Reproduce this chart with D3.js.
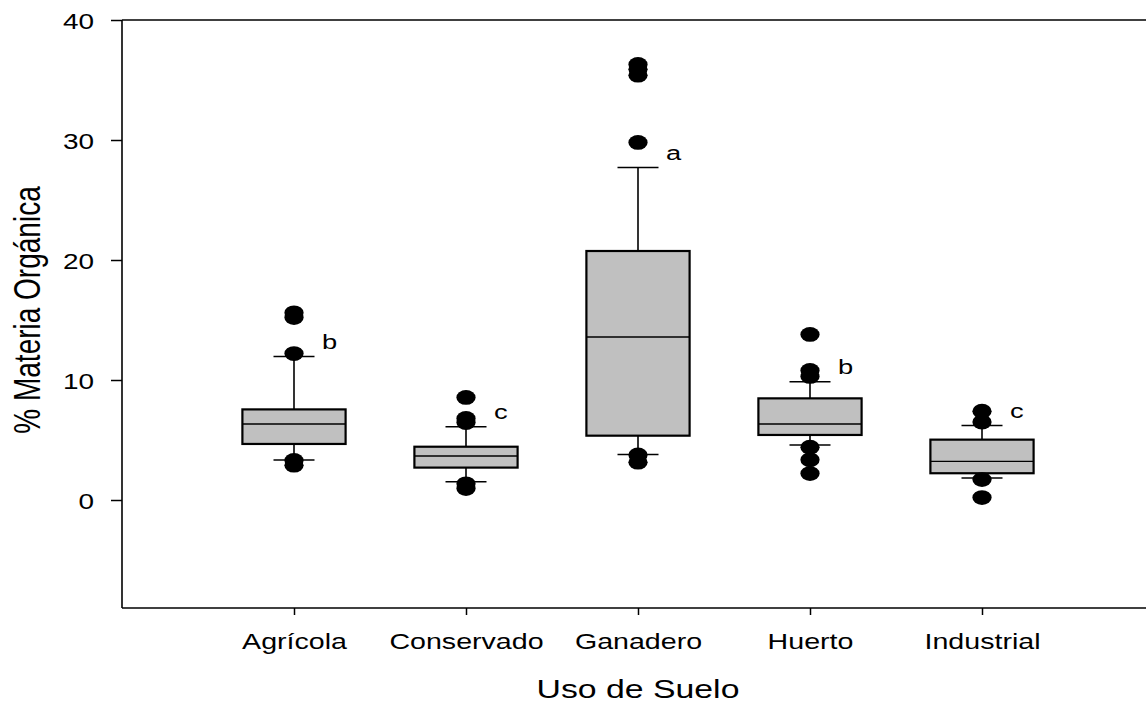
<!DOCTYPE html>
<html>
<head>
<meta charset="utf-8">
<script src="https://cdn.jsdelivr.net/npm/d3@7"></script>
<style>
  html, body { margin: 0; padding: 0; background: #fff; }
  svg { display: block; }
  text { font-family: "Liberation Sans", Arial, sans-serif; fill: #000; }
</style>
</head>
<body>
<svg id="chart" width="1146" height="702"></svg>
<script>
// Soil use categories and box-plot statistics (% organic matter)
const categories   = ["Agrícola", "Conservado", "Ganadero", "Huerto", "Industrial"];
const q1           = [4.67, 2.70, 5.36, 5.42, 2.23];
const medians      = [6.33, 3.67, 13.58, 6.33, 3.22];
const q3           = [7.55, 4.44, 20.75, 8.47, 5.03];
const whiskerLow   = [3.33, 1.52, 3.80, 4.58, 1.83];
const whiskerHigh  = [11.95, 6.10, 27.70, 9.86, 6.20];
const outliers     = [
  [15.6, 15.2, 12.2, 3.3, 2.9],
  [8.55, 6.8, 6.45, 1.35, 0.95],
  [36.3, 35.9, 35.4, 29.8, 3.75, 3.15],
  [13.8, 10.8, 10.3, 4.4, 3.35, 2.2],
  [7.4, 6.5, 1.7, 0.2]
];
const groupLetters = ["b", "c", "a", "b", "c"];
const yTicks       = [0, 10, 20, 30, 40];

// Glyphs and markers are drawn horizontally widened
const SX = 1.3;

const svg = d3.select("#chart");
const plotLeft = 122, plotRight = 1154, plotTop = 20, plotBottom = 608;

const x = d3.scalePoint().domain(categories).range([plotLeft, plotRight]).padding(1);
const y = d3.scaleLinear().domain([-9, 40]).range([plotBottom, plotTop]);

const boxW = 0.6 * x.step();
const capW = 41;

// Frame: top line
svg.append("line")
  .attr("x1", plotLeft).attr("x2", plotRight)
  .attr("y1", y(40)).attr("y2", y(40))
  .attr("stroke", "#000").attr("stroke-width", 1.6);

// Y axis
const yAxis = svg.append("g")
  .attr("transform", `translate(${plotLeft},0)`)
  .call(d3.axisLeft(y).tickValues(yTicks).tickSize(11).tickSizeOuter(0).tickFormat(d3.format("d")));
yAxis.select(".domain").attr("stroke", "#000").attr("stroke-width", 1.6)
  .attr("d", `M0,${plotBottom}V${plotTop}`);
yAxis.selectAll(".tick line").attr("stroke", "#000").attr("stroke-width", 1.5);
yAxis.selectAll(".tick text")
  .attr("x", null).attr("dy", null).attr("y", null)
  .attr("text-anchor", "end")
  .style("font-size", "21.5px")
  .attr("transform", `translate(-28,8) scale(${SX},1)`);

// X axis
const xAxis = svg.append("g")
  .attr("transform", `translate(0,${plotBottom})`)
  .call(d3.axisBottom(x).tickSize(7).tickSizeOuter(0));
xAxis.select(".domain").attr("stroke", "#000").attr("stroke-width", 1.6)
  .attr("d", `M${plotLeft},0H${plotRight}`);
xAxis.selectAll(".tick line").attr("stroke", "#000").attr("stroke-width", 1.5);
xAxis.selectAll(".tick text")
  .attr("y", null).attr("dy", null)
  .attr("text-anchor", "middle")
  .style("font-size", "22px")
  .attr("transform", `translate(0,41) scale(${SX},1)`);

// Box plots
const data = categories.map((c, i) => ({
  cat: c, q1: q1[i], med: medians[i], q3: q3[i],
  lo: whiskerLow[i], hi: whiskerHigh[i], out: outliers[i], letter: groupLetters[i]
}));

const g = svg.append("g");
const boxes = g.selectAll("g.box").data(data).join("g").attr("class", "box");

// whiskers
boxes.append("line")
  .attr("x1", d => x(d.cat)).attr("x2", d => x(d.cat))
  .attr("y1", d => y(d.q3)).attr("y2", d => y(d.hi))
  .attr("stroke", "#000").attr("stroke-width", 1.6);
boxes.append("line")
  .attr("x1", d => x(d.cat)).attr("x2", d => x(d.cat))
  .attr("y1", d => y(d.q1)).attr("y2", d => y(d.lo))
  .attr("stroke", "#000").attr("stroke-width", 1.6);
boxes.append("line")
  .attr("x1", d => x(d.cat) - capW / 2).attr("x2", d => x(d.cat) + capW / 2)
  .attr("y1", d => y(d.hi)).attr("y2", d => y(d.hi))
  .attr("stroke", "#000").attr("stroke-width", 1.5);
boxes.append("line")
  .attr("x1", d => x(d.cat) - capW / 2).attr("x2", d => x(d.cat) + capW / 2)
  .attr("y1", d => y(d.lo)).attr("y2", d => y(d.lo))
  .attr("stroke", "#000").attr("stroke-width", 1.5);

// box
boxes.append("rect")
  .attr("x", d => x(d.cat) - boxW / 2)
  .attr("width", boxW)
  .attr("y", d => y(d.q3))
  .attr("height", d => y(d.q1) - y(d.q3))
  .attr("fill", "#c0c0c0").attr("stroke", "#000").attr("stroke-width", 2.2);

// median
boxes.append("line")
  .attr("x1", d => x(d.cat) - boxW / 2).attr("x2", d => x(d.cat) + boxW / 2)
  .attr("y1", d => y(d.med)).attr("y2", d => y(d.med))
  .attr("stroke", "#000").attr("stroke-width", 1.4);

// outliers
boxes.selectAll("ellipse")
  .data(d => d.out.map(v => ({ cat: d.cat, v })))
  .join("ellipse")
  .attr("cx", d => x(d.cat)).attr("cy", d => y(d.v))
  .attr("rx", 7.4 * SX).attr("ry", 7.4)
  .attr("fill", "#000");

// significance letters
boxes.append("text")
  .attr("text-anchor", "start")
  .style("font-size", "21px")
  .attr("transform", d => `translate(${x(d.cat) + 28},${y(d.hi) - 8}) scale(${SX},1)`)
  .text(d => d.letter);

// Axis titles
svg.append("text")
  .attr("text-anchor", "middle")
  .style("font-size", "26px")
  .attr("transform", `translate(${(plotLeft + plotRight) / 2},698) scale(${SX},1)`)
  .text("Uso de Suelo");

svg.append("text")
  .attr("text-anchor", "middle")
  .style("font-size", "28px")
  .attr("transform", `translate(40,310) scale(${SX},1) rotate(-90)`)
  .text("% Materia Orgánica");
</script>
</body>
</html>
